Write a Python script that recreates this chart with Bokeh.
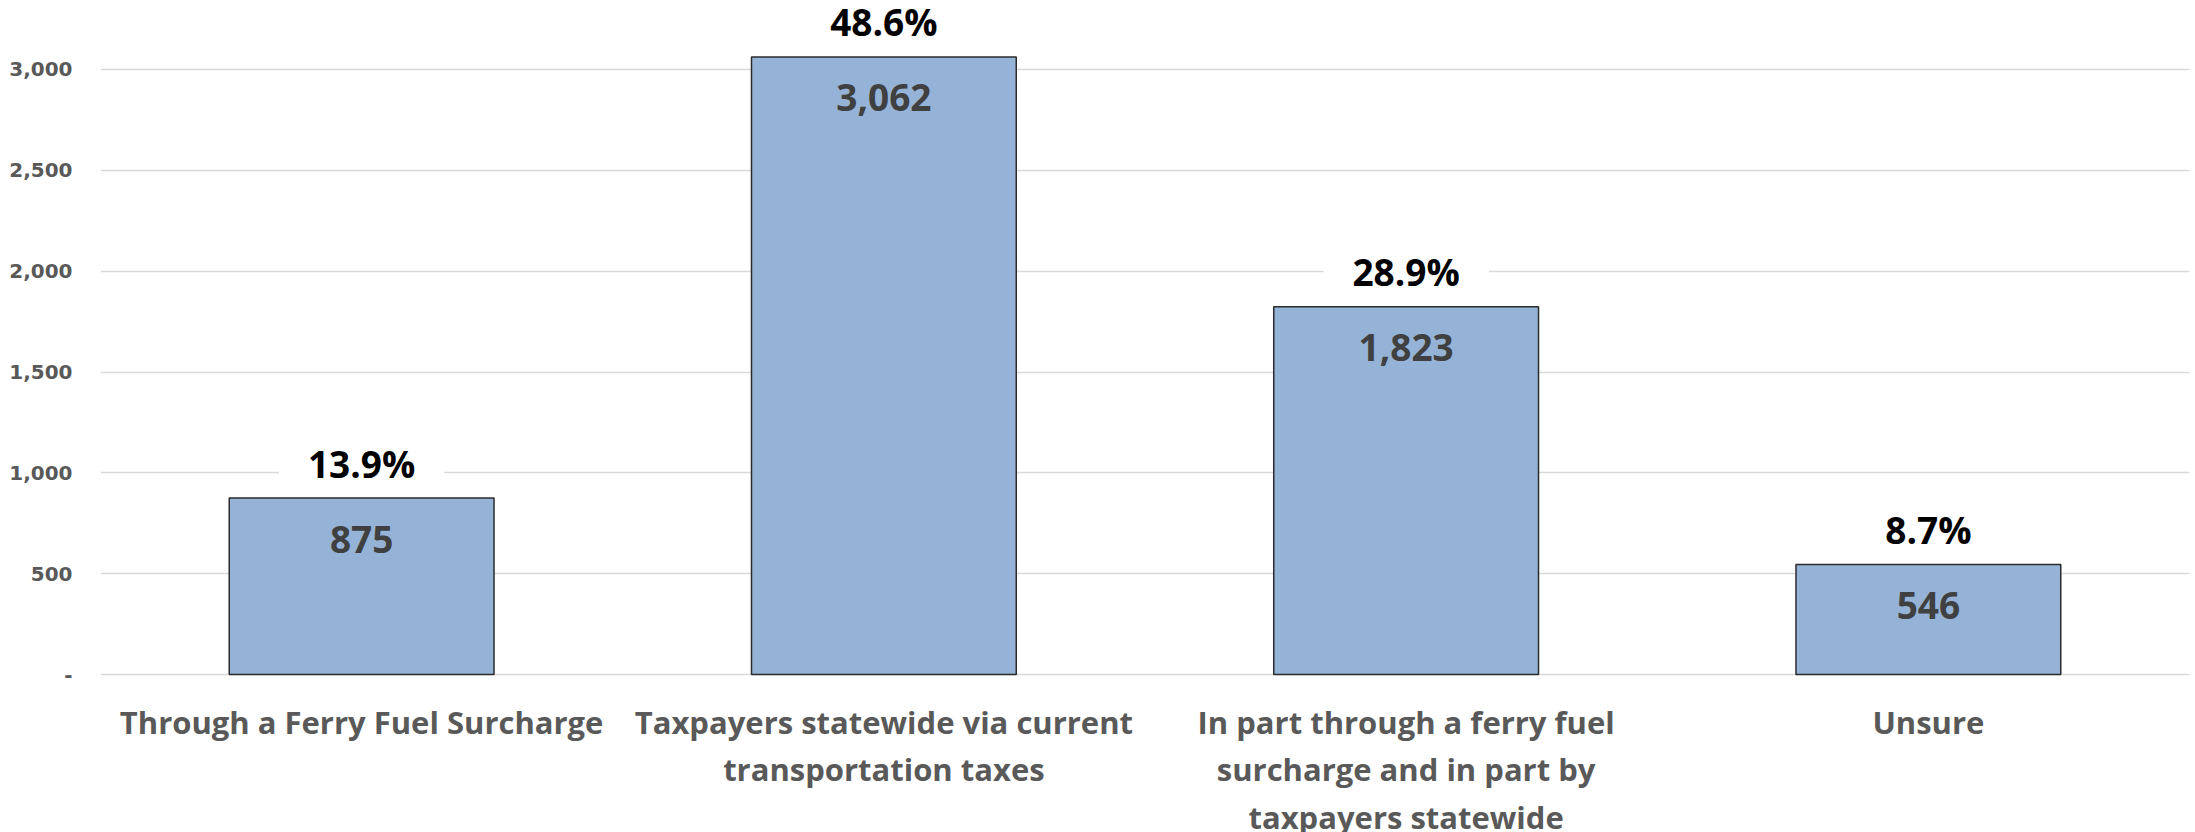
from bokeh.plotting import figure
from bokeh.models import FactorRange, Range1d, FixedTicker, ColumnDataSource
from bokeh.core.properties import value
from bokeh.embed import file_html
from bokeh.resources import INLINE

categories = ["Through a Ferry Fuel Surcharge",
              "Taxpayers statewide via current transportation taxes",
              "In part through a ferry fuel surcharge and in part by taxpayers statewide",
              "Unsure"]
display_labels = ["Through a Ferry Fuel Surcharge",
                  "Taxpayers statewide via current\ntransportation taxes",
                  "In part through a ferry fuel\nsurcharge and in part by\ntaxpayers statewide",
                  "Unsure"]
counts = [875, 3062, 1823, 546]
percents = ["13.9%", "48.6%", "28.9%", "8.7%"]
count_labels = ["875", "3,062", "1,823", "546"]
tick_values = [0, 500, 1000, 1500, 2000, 2500, 3000]
tick_labels = ["-", "500", "1,000", "1,500", "2,000", "2,500", "3,000"]

src = ColumnDataSource(dict(cat=categories, lab=display_labels, cnt=counts,
                            pct=percents, cl=count_labels, zero=[0] * len(categories)))

p = figure(width=2191, height=832, x_range=FactorRange(factors=categories, range_padding=0),
           y_range=Range1d(-783.4, 3342.1), x_axis_location=None,
           output_backend="svg", toolbar_location=None,
           min_border_left=100, min_border_right=2, min_border_top=0, min_border_bottom=0)
p.outline_line_color = None
p.background_fill_color = "white"
p.border_fill_color = "white"
p.xgrid.visible = False

p.yaxis.ticker = FixedTicker(ticks=tick_values)
p.yaxis.major_label_overrides = {v: l for v, l in zip(tick_values, tick_labels)}
p.yaxis.axis_line_color = None
p.yaxis.major_tick_line_color = None
p.yaxis.minor_tick_line_color = None
p.yaxis.major_label_standoff = 22
p.yaxis.major_label_text_font = "DejaVu Sans"
p.yaxis.major_label_text_font_style = "bold"
p.yaxis.major_label_text_font_size = "20px"
p.yaxis.major_label_text_color = "#595959"
p.ygrid.grid_line_color = "#d9d9d9"
p.ygrid.grid_line_width = 1.5

p.vbar(x="cat", top="cnt", bottom=0, width=0.507, source=src,
       fill_color="#95b3d7", line_color="#2b2b2b", line_width=1.5)

p.text(x="cat", y="cnt", text="pct", source=src, y_offset=-35,
       text_align="center", text_baseline="middle",
       text_font=value("Open Sans"), text_font_style="bold", text_font_size="37px",
       text_color="black", background_fill_color="white", padding=(29, 0))

p.text(x="cat", y="cnt", text="cl", source=src, y_offset=41,
       text_align="center", text_baseline="middle",
       text_font=value("Open Sans"), text_font_style="bold", text_font_size="37px",
       text_color="#404040")

p.text(x="cat", y="zero", text="lab", source=src, y_offset=26,
       text_align="center", text_baseline="top", text_line_height=1.14,
       text_font=value("Open Sans"), text_font_style="bold", text_font_size="31px",
       text_color="#595959")

open("out.html", "w").write(file_html(p, INLINE))
